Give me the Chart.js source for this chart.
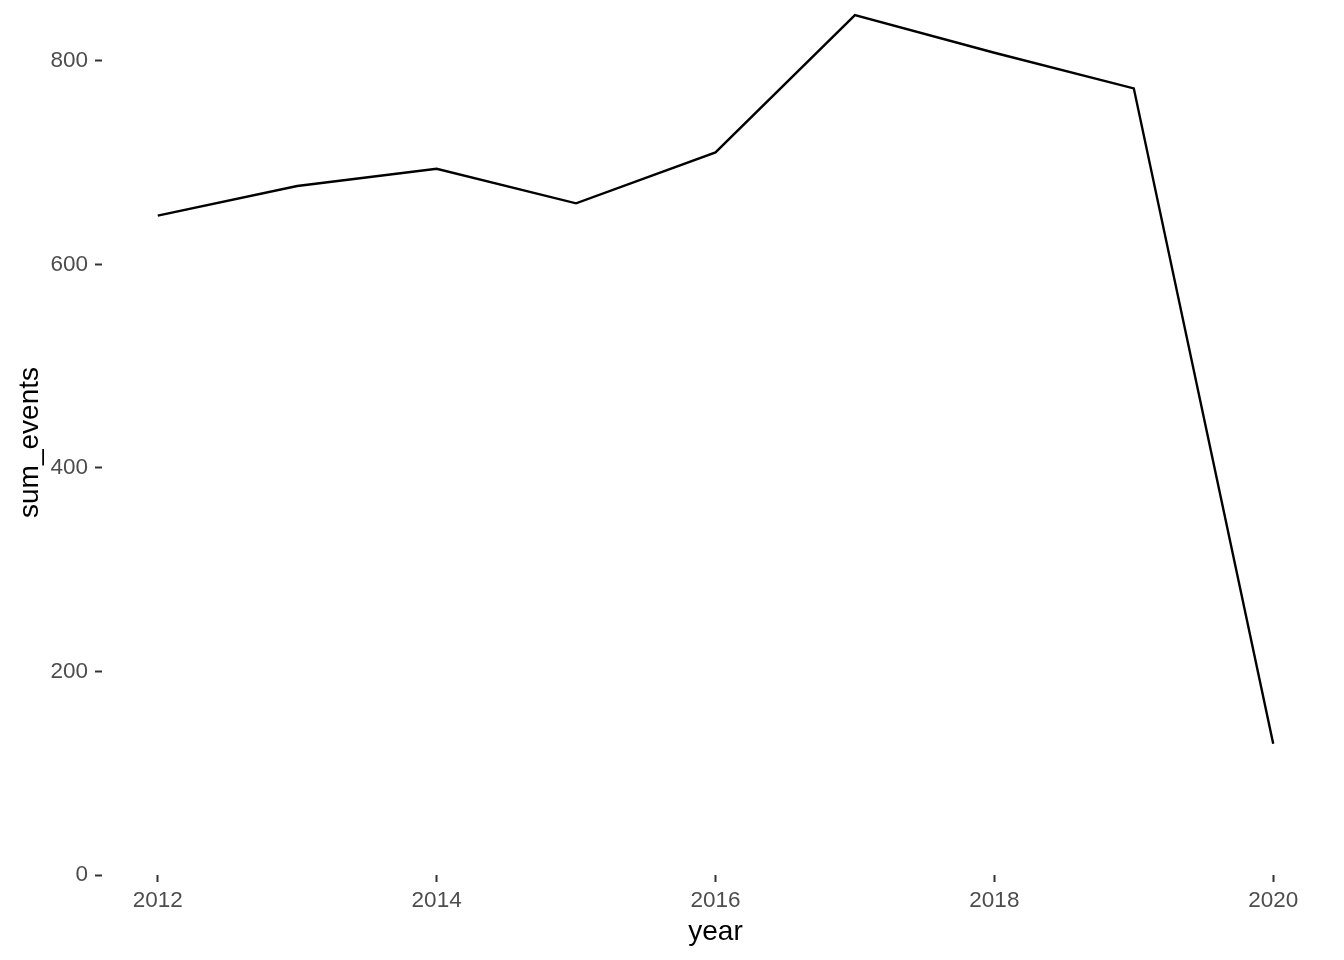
<!DOCTYPE html>
<html>
<head>
<meta charset="utf-8">
<script src="https://cdn.jsdelivr.net/npm/chart.js@4"></script>
<style>
  body { margin: 0; background: #fff; }
  canvas { display: block; }
</style>
</head>
<body>
<canvas id="grafico" width="1344" height="960"></canvas>
<script>
// Dados
const anos = [2012, 2013, 2014, 2015, 2016, 2017, 2018, 2019, 2020];
const somaEventos = [648, 677, 694, 660, 710, 845, 808, 773, 129];
const ticksX = [2012, 2014, 2016, 2018, 2020];
const ticksY = [0, 200, 400, 600, 800];

const fonte = "'Liberation Sans', Arial, Helvetica, sans-serif";

const ctx = document.getElementById("grafico").getContext("2d");

new Chart(ctx, {
    type: 'line',
    data: {
        datasets: [{
            label: "sum_events",
            data: anos.map((a, i) => ({ x: a, y: somaEventos[i] })),
            borderColor: '#000000',
            borderWidth: 2.4,
            pointRadius: 0,
            tension: 0,
            fill: false,
            clip: false
        }]
    },
    options: {
        responsive: false,
        animation: false,
        layout: { padding: { top: 10, right: 15, left: 0, bottom: 0 } },
        plugins: {
            legend: { display: false },
            tooltip: { enabled: false }
        },
        scales: {
            x: {
                type: 'linear',
                min: 2011.6,
                max: 2020.4,
                afterBuildTicks: scale => { scale.ticks = ticksX.map(v => ({ value: v })); },
                afterFit: scale => { scale.height = 85; },
                border: { display: false },
                grid: {
                    drawOnChartArea: false,
                    drawTicks: true,
                    tickLength: 7,
                    tickColor: '#333333',
                    tickWidth: 2
                },
                ticks: {
                    color: '#4d4d4d',
                    font: { family: fonte, size: 22.5 },
                    padding: 5,
                    maxRotation: 0,
                    callback: v => String(v)
                },
                title: {
                    display: true,
                    text: 'year',
                    color: '#000000',
                    font: { family: fonte, size: 28 },
                    padding: { top: 4, bottom: 11 }
                }
            },
            y: {
                min: 0,
                max: 850,
                afterBuildTicks: scale => { scale.ticks = ticksY.map(v => ({ value: v })); },
                afterFit: scale => {
                    scale.width = 102;
                    scale.paddingTop = 0;
                    scale.paddingBottom = 0;
                },
                border: { display: false },
                grid: {
                    drawOnChartArea: false,
                    drawTicks: true,
                    tickLength: 7,
                    tickColor: '#333333',
                    tickWidth: 2
                },
                ticks: {
                    color: '#4d4d4d',
                    font: { family: fonte, size: 22.5 },
                    padding: 7
                },
                title: {
                    display: true,
                    text: 'sum_events',
                    color: '#000000',
                    font: { family: fonte, size: 28 },
                    padding: { top: 13, bottom: 0 }
                }
            }
        }
    }
});
</script>
</body>
</html>
